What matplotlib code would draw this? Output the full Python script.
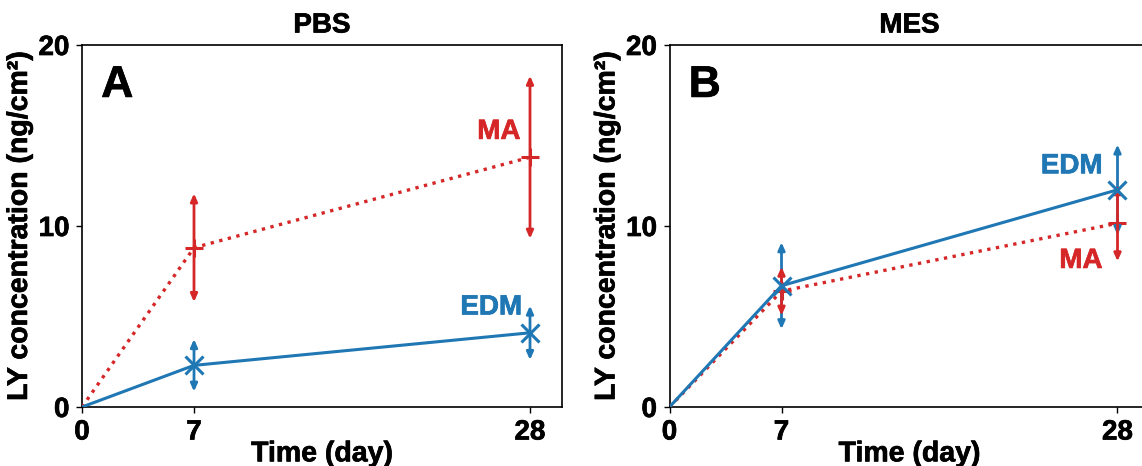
import matplotlib
matplotlib.use("Agg")
import matplotlib.pyplot as plt
import matplotlib.patheffects as pe

plt.rcParams['font.family'] = ['Liberation Sans', 'DejaVu Sans']
plt.rcParams['font.weight'] = 'bold'

days = [0, 7, 28]
xticks = [0, 7, 28]
yticks = [0, 10, 20]

# Panel A (PBS)
pbs_ma = [0, 8.8, 13.8]
pbs_ma_err = [0, 3.0, 4.5]
pbs_edm = [0, 2.3, 4.1]
pbs_edm_err = [0, 1.45, 1.5]

# Panel B (MES)
mes_ma = [0, 6.4, 10.15]
mes_ma_err = [0, 1.35, 2.1]
mes_edm = [0, 6.7, 12.0]
mes_edm_err = [0, 2.4, 2.5]

titles = ["PBS", "MES"]
panel_letters = ["A", "B"]

BLUE = '#1f77b4'
RED = '#d62728'
FS = 20
STROKE = 0.5


def heavy(color='black'):
    return [pe.withStroke(linewidth=STROKE, foreground=color)]


W, H = 1142, 466
fig = plt.figure(figsize=(W / 100, H / 100), dpi=100)
axA = fig.add_axes([82 / W, 59 / H, 480 / W, 362 / H])
axB = fig.add_axes([669.5 / W, 59 / H, 480 / W, 362 / H])


def err_arrows(ax, x, y, e, color, z):
    for xi, yi, ei in zip(x, y, e):
        if ei <= 0:
            continue
        ax.annotate('', xy=(xi, yi + ei), xytext=(xi, yi - ei),
                    arrowprops=dict(arrowstyle='<|-|>,head_length=0.45,head_width=0.2',
                                    color=color, lw=2.0, shrinkA=0, shrinkB=0),
                    zorder=z, annotation_clip=False)


def draw(ax, ma, ma_err, edm, edm_err, title, letter, edm_first=False):
    ax.plot(days, ma, color=RED, ls=':', lw=2.4, marker='+', ms=13, mew=2.2,
            zorder=3, markevery=[1, 2])
    ax.plot(days, edm, color=BLUE, ls='-', lw=2.2, marker='x', ms=13, mew=2.2,
            zorder=4, markevery=[1, 2])
    if edm_first:
        err_arrows(ax, days, edm, edm_err, BLUE, 3.5)
        err_arrows(ax, days, ma, ma_err, RED, 3.6)
    else:
        err_arrows(ax, days, ma, ma_err, RED, 3.5)
        err_arrows(ax, days, edm, edm_err, BLUE, 3.6)
    ax.set_xlim(0, 30)
    ax.set_ylim(0, 20)
    ax.set_xticks(xticks)
    ax.set_yticks(yticks)
    ax.tick_params(labelsize=FS, length=4, width=1.0, direction='out', pad=5)
    for lab in ax.get_xticklabels() + ax.get_yticklabels():
        lab.set_fontweight('bold')
        lab.set_path_effects(heavy())
    for s in ax.spines.values():
        s.set_linewidth(1.2)
    xl = ax.set_xlabel('Time (day)', fontsize=20.5, fontweight='bold', labelpad=-3)
    yl = ax.set_ylabel('LY concentration (ng/cm²)', fontsize=20.5, fontweight='bold', labelpad=4)
    tt = ax.set_title(title, fontsize=FS, fontweight='bold', pad=9)
    for t in (xl, yl, tt):
        t.set_path_effects(heavy())
    ax.text(0.04, 0.945, letter, transform=ax.transAxes, fontsize=32,
            fontweight='bold', ha='left', va='top', path_effects=heavy())


def label(ax, x, y, s, color):
    ax.text(x, y, s, color=color, fontsize=FS, fontweight='bold', ha='right',
            va='center', path_effects=heavy(color))


draw(axA, pbs_ma, pbs_ma_err, pbs_edm, pbs_edm_err, titles[0], panel_letters[0])
label(axA, 27.4, 15.2, 'MA', RED)
label(axA, 27.5, 5.5, 'EDM', BLUE)

draw(axB, mes_ma, mes_ma_err, mes_edm, mes_edm_err, titles[1], panel_letters[1], edm_first=True)
label(axB, 27.06, 13.3, 'EDM', BLUE)
label(axB, 27.06, 8.07, 'MA', RED)

fig.savefig('out.png', dpi=100)
